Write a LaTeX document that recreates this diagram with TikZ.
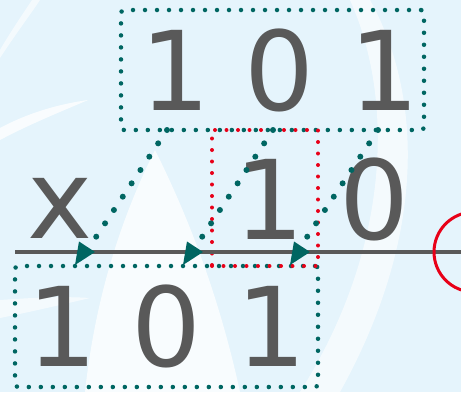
\documentclass[tikz,border=0pt]{standalone}
\usepackage{fontspec}
\setmainfont{DejaVu Sans}
\definecolor{bgblue}{RGB}{229,244,252}
\definecolor{tealc}{RGB}{0,102,98}
\definecolor{redc}{RGB}{232,0,24}
\definecolor{greyc}{RGB}{89,89,89}
\tikzset{
  tealbox/.style={draw=tealc, line width=4.5pt, line cap=round, dash pattern=on 0pt off 12pt, rounded corners=3pt},
  redbox/.style={draw=redc, line width=4pt, line cap=round, dash pattern=on 0pt off 11.5pt},
  dotconn/.style={draw=tealc, line width=6pt, line cap=round, dash pattern=on 0pt off 16pt},
  digits/.style={text=greyc, inner sep=0pt, anchor=base, font=\fontsize{110}{110}\selectfont},
  headfill/.style={fill=tealc},
}
\begin{document}
\begin{tikzpicture}[x=1pt,y=-1pt]
% background
\fill[bgblue] (0,0) rectangle (461,392);
\useasboundingbox (0,0) rectangle (461,392);
\begin{scope}
\clip (0,0) rectangle (461,392);
\fill[white, opacity=0.6] (0,58) .. controls (15,35) and (30,15) .. (40,0) -- (32,0) .. controls (20,18) and (8,36) .. (0,50) -- cycle;
\fill[white, opacity=0.8] (0,128) .. controls (30,112) and (60,104) .. (88,100) .. controls (60,112) and (30,124) .. (0,140) -- cycle;
\fill[white, opacity=0.6] (0,300) .. controls (30,298) and (60,296) .. (90,298) .. controls (60,305) and (30,312) .. (0,318) -- cycle;
% central white wedge
\fill[white, opacity=0.75] (155,150) .. controls (120,220) and (95,300) .. (85,392) -- (240,392) .. controls (220,300) and (190,220) .. (155,150) -- cycle;
% right crescent
\fill[white, opacity=0.6] (370,0) .. controls (420,90) and (430,230) .. (340,392) -- (300,392) .. controls (390,250) and (395,100) .. (350,0) -- cycle;
\end{scope}

% boxes
\node[tealbox, minimum width=303pt, minimum height=120pt, inner sep=0pt] (topbox) at (272.5,70) {};
\node[tealbox, minimum width=303pt, minimum height=121pt, inner sep=0pt] (botbox) at (166.5,326.5) {};
\node[redbox, minimum width=106pt, minimum height=136pt, inner sep=0pt] (redrect) at (265,198) {};

% texts
\node[digits] (toptext) at (280,110) {1 0 1};
\node[digits] (bottext) at (167,366) {1 0 1};
\node[digits] (midx) at (60,238) {x};
\node[digits] (midtext) at (322,239) {1 0};

% axis line and circle
\coordinate (lstart) at (15,252);
\coordinate (lend) at (461,252);
\draw[greyc, line width=4.5pt] (lstart) -- (lend);
\node[draw=redc, line width=3pt, circle, minimum size=80pt, inner sep=0pt] (redcirc) at (474,252) {};

% connectors
\coordinate (s1) at (167,130); \coordinate (e1) at (96,237); \coordinate (h1) at (95,252);
\coordinate (s2) at (273,130); \coordinate (e2) at (202,237); \coordinate (h2) at (203,252);
\coordinate (s3) at (378,130); \coordinate (e3) at (307,237); \coordinate (h3) at (310,252);
\draw[dotconn] (s1) -- (e1);
\draw[dotconn] (s2) -- (e2);
\draw[dotconn] (s3) -- (e3);
\foreach \h in {h1,h2,h3}
  \fill[headfill] (\h) -- ++(-16,-10.5) -- ++(-4,23.5) -- cycle;
\end{tikzpicture}
\end{document}
